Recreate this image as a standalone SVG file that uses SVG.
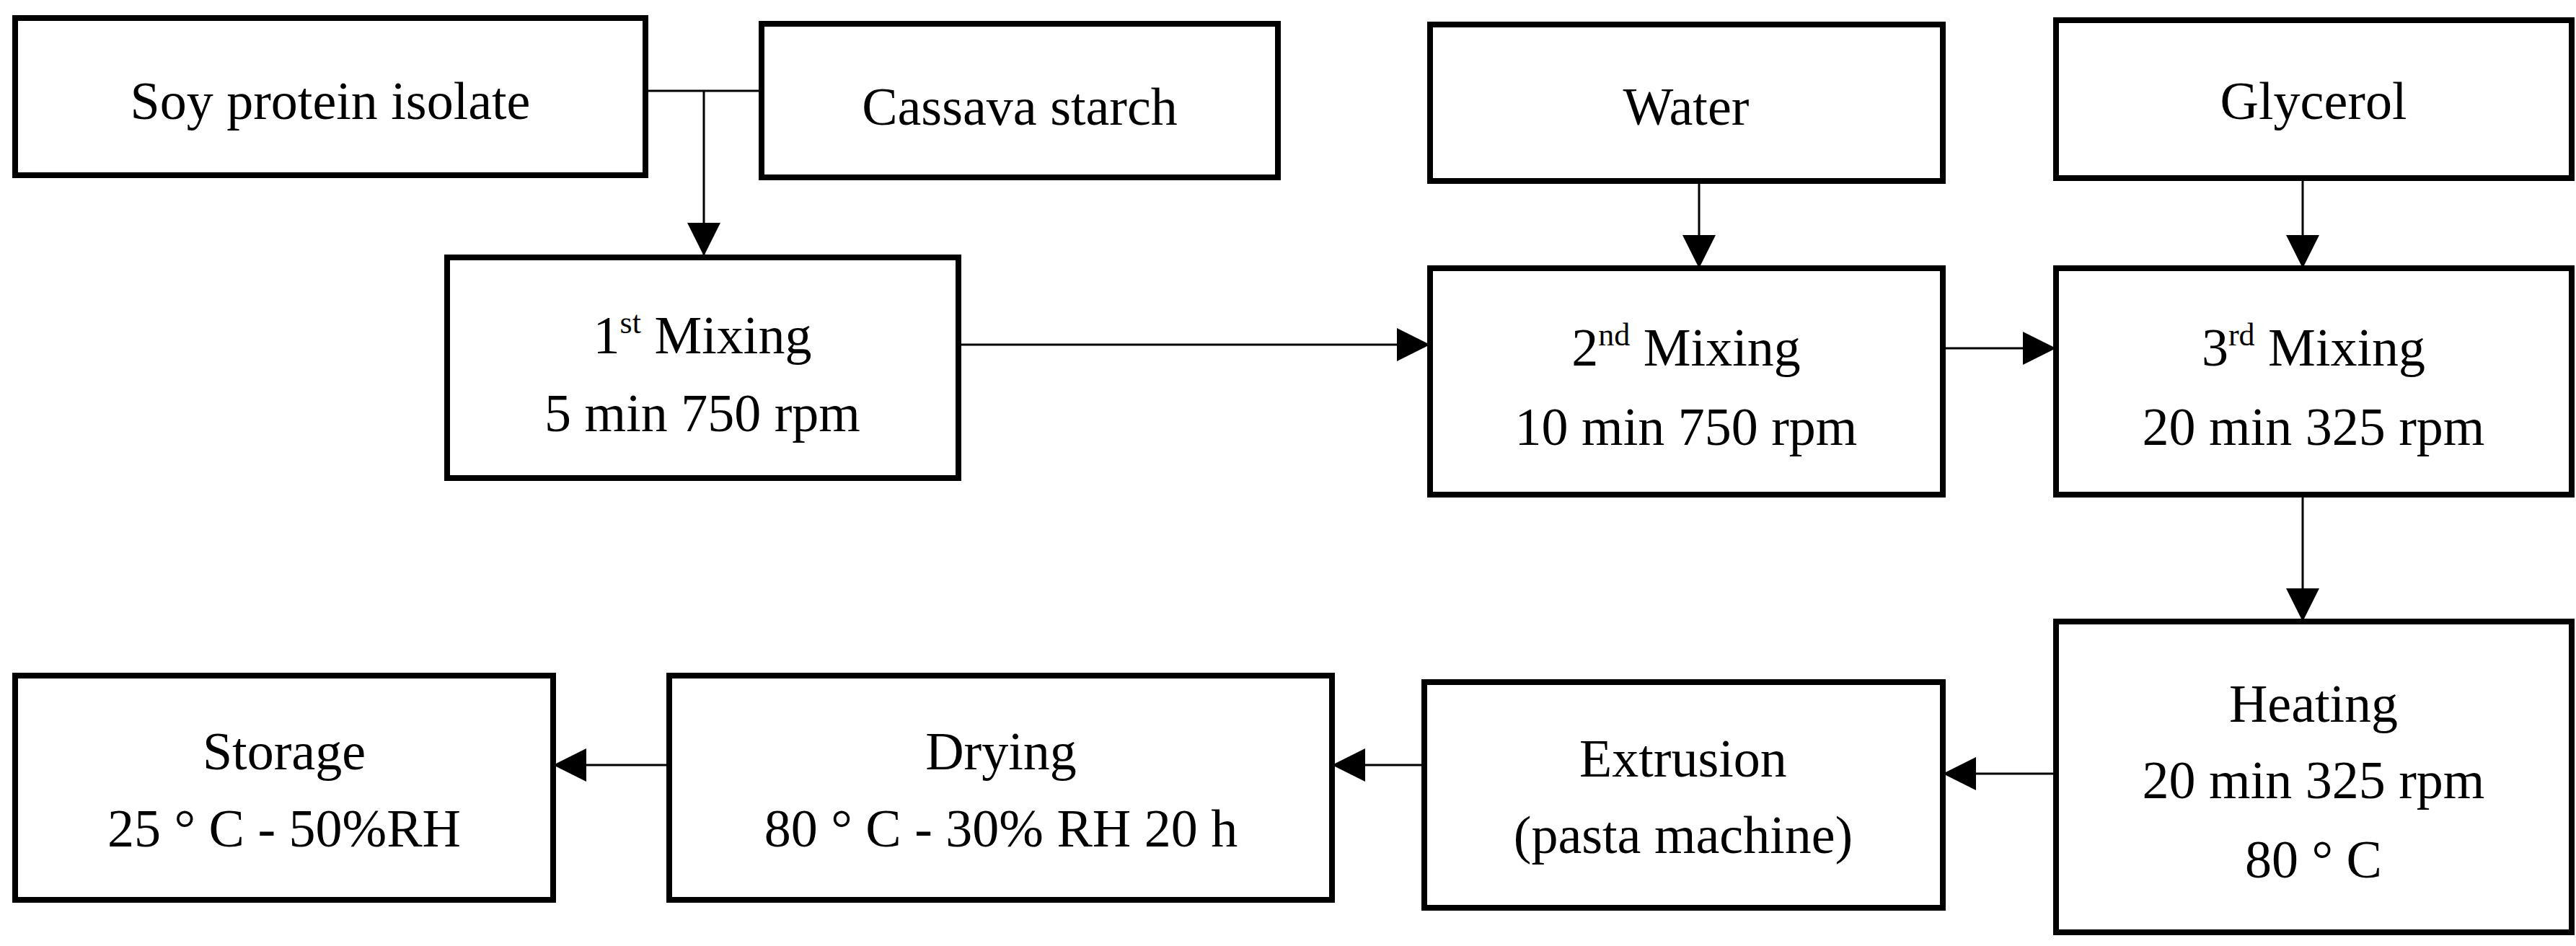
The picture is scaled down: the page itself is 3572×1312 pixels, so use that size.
<svg xmlns="http://www.w3.org/2000/svg" width="3572" height="1312" viewBox="0 0 3572 1312">
<style>
.b{fill:#fff;stroke:#000;stroke-width:8}
.t{font-family:"Liberation Serif","Times New Roman",serif;font-size:74px;text-anchor:middle;fill:#000}
.c{stroke:#000;stroke-width:3;fill:none}
.sup{font-size:44px}
</style>
<defs>
<marker id="h" markerWidth="46" markerHeight="46" refX="46" refY="23" orient="auto" markerUnits="userSpaceOnUse"><path d="M0,0L46,23L0,46z" fill="#000"/></marker></defs>
<g id="connectors">
<path class="c" d="M895,126H1056M976,126V355" marker-end="url(#h)"/>
<path class="c" d="M1329,478H1983" marker-end="url(#h)"/>
<path class="c" d="M2356,251V372" marker-end="url(#h)"/>
<path class="c" d="M2694,483H2851" marker-end="url(#h)"/>
<path class="c" d="M3193,251V372" marker-end="url(#h)"/>
<path class="c" d="M3193,686V862" marker-end="url(#h)"/>
<path class="c" d="M2851,1073H2694" marker-end="url(#h)"/>
<path class="c" d="M1975,1061H1847" marker-end="url(#h)"/>
<path class="c" d="M928,1061H767" marker-end="url(#h)"/>
</g>
<g id="soy"><rect class="b" x="21" y="25" width="874" height="218"/><text class="t" x="458" y="165">Soy protein isolate</text></g>
<g id="cassava"><rect class="b" x="1056" y="33" width="716" height="213"/><text class="t" x="1414" y="173">Cassava starch</text></g>
<g id="water"><rect class="b" x="1983" y="34" width="711" height="217"/><text class="t" x="2338" y="173">Water</text></g>
<g id="glycerol"><rect class="b" x="2851" y="28" width="715" height="219"/><text class="t" x="3208" y="165">Glycerol</text></g>
<g id="mix1"><rect class="b" x="620" y="357" width="709" height="306"/><text class="t" x="974" y="490">1<tspan class="sup" dy="-28">st</tspan><tspan dy="28"> Mixing</tspan></text><text class="t" x="974" y="598">5 min 750 rpm</text></g>
<g id="mix2"><rect class="b" x="1983" y="372" width="711" height="314"/><text class="t" x="2338" y="507">2<tspan class="sup" dy="-28">nd</tspan><tspan dy="28"> Mixing</tspan></text><text class="t" x="2338" y="617">10 min 750 rpm</text></g>
<g id="mix3"><rect class="b" x="2851" y="372" width="715" height="314"/><text class="t" x="3208" y="507">3<tspan class="sup" dy="-28">rd</tspan><tspan dy="28"> Mixing</tspan></text><text class="t" x="3208" y="617">20 min 325 rpm</text></g>
<g id="heating"><rect class="b" x="2851" y="862" width="715" height="431"/><text class="t" x="3208" y="1001">Heating</text><text class="t" x="3208" y="1107">20 min 325 rpm</text><text class="t" x="3208" y="1217">80 ° C</text></g>
<g id="extrusion"><rect class="b" x="1975" y="946" width="719" height="313"/><text class="t" x="2334" y="1077">Extrusion</text><text class="t" x="2334" y="1183">(pasta machine)</text></g>
<g id="drying"><rect class="b" x="928" y="937" width="919" height="311"/><text class="t" x="1388" y="1067">Drying</text><text class="t" x="1388" y="1174">80 ° C - 30% RH 20 h</text></g>
<g id="storage"><rect class="b" x="21" y="937" width="746" height="311"/><text class="t" x="394" y="1067">Storage</text><text class="t" x="394" y="1174">25 ° C - 50%RH</text></g>
</svg>
